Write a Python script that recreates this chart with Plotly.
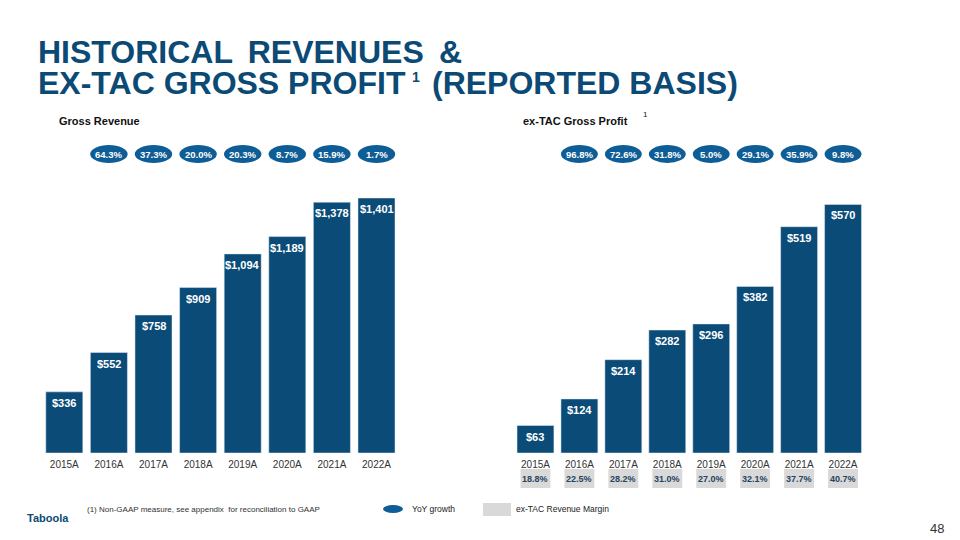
import plotly.graph_objects as go

## Data
years = ['2015A', '2016A', '2017A', '2018A', '2019A', '2020A', '2021A', '2022A']
gross_revenue = [336, 552, 758, 909, 1094, 1189, 1378, 1401]
extac_gross_profit = [63, 124, 214, 282, 296, 382, 519, 570]
revenue_growth = ['64.3%', '37.3%', '20.0%', '20.3%', '8.7%', '15.9%', '1.7%']
profit_growth = ['96.8%', '72.6%', '31.8%', '5.0%', '29.1%', '35.9%', '9.8%']
extac_margin = ['18.8%', '22.5%', '28.2%', '31.0%', '27.0%', '32.1%', '37.7%', '40.7%']

# page body keeps an 8px margin, so the figure is a bit smaller than the window
OFF = 8
W, H = 960 - OFF, 540 - OFF
NAVY = '#0B4A75'
BAR = '#0A4B78'
PILL = '#0F5D96'
GREY_BOX = '#D9D9D9'
FONT = 'Liberation Sans, Arial, sans-serif'
WIDE = ' \u2009'


def px(x):
    return (x - OFF) / W


def py(y):
    return 1 - (y - OFF) / H


def note(x, y, text, size, color, xanchor='left', yanchor='middle', xref='paper', yref='paper', **kw):
    return dict(x=x, y=y, xref=xref, yref=yref, text=text, showarrow=False,
                xanchor=xanchor, yanchor=yanchor, font=dict(family=FONT, size=size, color=color), **kw)


fig = go.Figure()

fig.add_trace(go.Bar(x=years, y=gross_revenue, marker_color=BAR, width=0.83,
                     xaxis='x', yaxis='y', hoverinfo='skip'))
fig.add_trace(go.Bar(x=years, y=extac_gross_profit, marker_color=BAR, width=0.84,
                     xaxis='x2', yaxis='y2', hoverinfo='skip'))

shapes = []
annotations = []

# value labels inside top of bars
for xa, ya, vals in [('x', 'y', gross_revenue), ('x2', 'y2', extac_gross_profit)]:
    for yr, v in zip(years, vals):
        annotations.append(note(yr, v, '<b>$' + format(v, ',') + '</b>', 11, 'white',
                                xanchor='center', yanchor='top', xref=xa, yref=ya, yshift=-3))

# YoY growth pills above bars (2016A..2022A)
for xa, growth in [('x', revenue_growth), ('x2', profit_growth)]:
    for i, g in enumerate(growth):
        shapes.append(dict(type='circle', xref=xa, yref='paper',
                           x0=i + 1 - 0.42, x1=i + 1 + 0.42, y0=py(163), y1=py(145),
                           fillcolor=PILL, line=dict(width=0)))
        annotations.append(note(years[i + 1], py(154), '<b>' + g + '</b>', 9.5, 'white',
                                xanchor='center', xref=xa))

# ex-TAC revenue margin boxes under right chart
for i, m in enumerate(extac_margin):
    shapes.append(dict(type='rect', xref='x2', yref='paper',
                       x0=i - 0.34, x1=i + 0.34, y0=py(488), y1=py(469),
                       fillcolor=GREY_BOX, line=dict(width=0)))
    annotations.append(note(years[i], py(478.5), '<b>' + m + '</b>', 9, '#27445F',
                            xanchor='center', xref='x2'))

# Title
annotations.append(note(px(36), py(52), '<b>HISTORICAL' + WIDE + 'REVENUES' + WIDE + '&</b>', 32, NAVY))
annotations.append(note(px(36), py(83), '<b>EX-TAC GROSS PROFIT</b>', 32, NAVY))
annotations.append(note(px(410), py(77), '<b>1</b>', 14, NAVY))
annotations.append(note(px(430), py(83), '<b>(REPORTED BASIS)</b>', 32, NAVY))

# Subtitles
annotations.append(note(px(57), py(121), '<b>Gross Revenue</b>', 11, '#111111'))
annotations.append(note(px(521), py(121), '<b>ex-TAC Gross Profit</b>', 11, '#111111'))
annotations.append(note(px(641), py(115), '1', 8, '#111111'))

# Legend
shapes.append(dict(type='circle', xref='paper', yref='paper', x0=px(383), x1=px(403), y0=py(513), y1=py(505),
                   fillcolor=PILL, line=dict(width=0)))
annotations.append(note(px(410), py(509), 'YoY growth', 8.5, '#222222'))
shapes.append(dict(type='rect', xref='paper', yref='paper', x0=px(483), x1=px(511), y0=py(516), y1=py(503),
                   fillcolor=GREY_BOX, line=dict(width=0)))
annotations.append(note(px(514), py(509), 'ex-TAC Revenue Margin', 8.5, '#222222'))

# Footnote, logo, page number
annotations.append(note(px(85), py(509), '(1) Non-GAAP measure, see appendix  for reconciliation to GAAP',
                        8, '#333333'))
annotations.append(note(px(25), py(518), '<b>Taboola</b>', 11, NAVY))
annotations.append(note(px(946), py(528), '48', 13, '#333333', xanchor='right'))

axis_common = dict(type='category', showgrid=False, zeroline=False, showline=False, ticks='',
                   tickfont=dict(family=FONT, size=10, color='#333333'), range=[-0.5, 7.5],
                   ticklabelstandoff=4)
yaxis_common = dict(visible=False, showgrid=False, zeroline=False, domain=[py(453), py(170)])

fig.update_layout(
    width=W, height=H,
    margin=dict(l=0, r=0, t=0, b=0),
    paper_bgcolor='white', plot_bgcolor='white',
    showlegend=False,
    xaxis=dict(axis_common, domain=[px(42), px(398.8)], anchor='y'),
    xaxis2=dict(axis_common, domain=[px(513.5), px(865)], anchor='y2'),
    yaxis=dict(yaxis_common, range=[0, 283 / 0.182], anchor='x'),
    yaxis2=dict(yaxis_common, range=[0, 283 / 0.436], anchor='x2'),
    shapes=shapes,
    annotations=annotations,
)

fig.write_html("out.html")
